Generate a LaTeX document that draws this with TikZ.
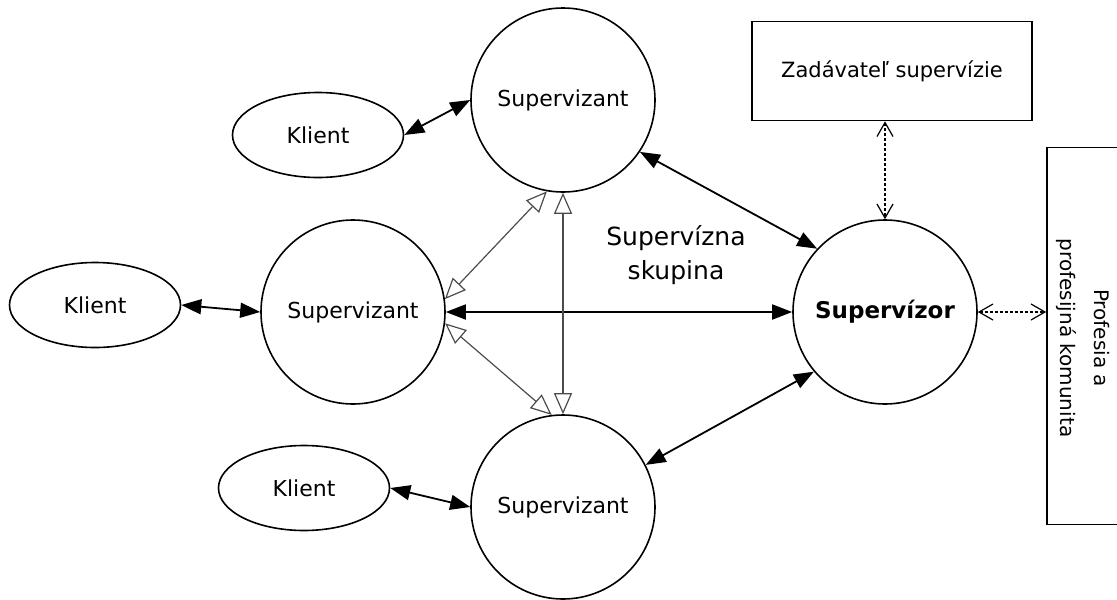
\documentclass[tikz,border=0pt]{standalone}
\usepackage{fontspec}
\setmainfont{DejaVu Sans}
\usetikzlibrary{shapes.geometric,arrows.meta,positioning}
\tikzset{
  clovek/.style={circle,draw,line width=1.6pt,minimum size=184pt,inner sep=0pt,font=\fontsize{22}{26}\selectfont},
  klient/.style={ellipse,draw,line width=1.6pt,minimum width=171pt,minimum height=85pt,inner sep=0pt,font=\fontsize{22}{26}\selectfont},
  ramec/.style={rectangle,draw,line width=1.6pt,inner sep=0pt,font=\fontsize{21}{33}\selectfont},
  vazba/.style={line width=1.8pt,{Triangle[length=20pt,width=15pt]}-{Triangle[length=20pt,width=15pt]}},
  skupvazba/.style={line width=1.2pt,draw=black!70,{Triangle[open,length=21pt,width=18pt]}-{Triangle[open,length=21pt,width=18pt]}},
  vonkajsia/.style={line width=1.2pt,dash pattern=on 3pt off 2pt,{Straight Barb[length=14pt,width=16pt]}-{Straight Barb[length=14pt,width=16pt]}}
}
\begin{document}
\begin{tikzpicture}[x=1pt,y=-1pt]
%
\useasboundingbox (0,0) rectangle (1117,600);
\clip (0,0) rectangle (1117,600);
%
\node[clovek] (s1) at (563,100) {Supervizant};
\node[clovek] (s2) at (353,312) {Supervizant};
\node[clovek] (s3) at (563,507) {Supervizant};
\node[clovek,font=\fontsize{23}{28}\selectfont\bfseries] (sup) at (885,312) {Supervízor};
%
\node[klient] (k1) at (318,135) {Klient};
\node[klient] (k2) at (95,305) {Klient};
\node[klient] (k3) at (304,488) {Klient};
%
\node[ramec,minimum width=280pt,minimum height=99pt] (zad) at (892,71) {Zadávateľ supervízie};
\node[ramec,minimum width=140pt,minimum height=377pt] (prof) at (1117,336) {};
\node[font=\fontsize{20}{34}\selectfont,align=center,rotate=-90] (proftext) at (1083,338) {Profesia a\\profesijná komunita};
%
\node[font=\fontsize{25}{34}\selectfont,align=center] (skup) at (676,255) {Supervízna\\skupina};
%
\draw[vazba] (k1.east) -- (s1.west);
\draw[vazba] (k2.east) -- (s2.west);
\draw[vazba] (k3.east) -- (s3.west);
\draw[vazba] (s1.-34) -- (sup.137);
\draw[vazba] (s2.east) -- (sup.west);
\draw[vazba] (s3.27) -- (sup.220);
%
\draw[skupvazba] (s2.8) -- (s1.260);
\draw[skupvazba] (s2.-7) -- (s3.97);
\draw[skupvazba] (s1.south) -- (s3.north);
%
\draw[vonkajsia] (zad.south -| sup.north) -- (sup.north);
\draw[vonkajsia] (sup.east) -- (prof.west |- sup.east);
%
\end{tikzpicture}
\end{document}
